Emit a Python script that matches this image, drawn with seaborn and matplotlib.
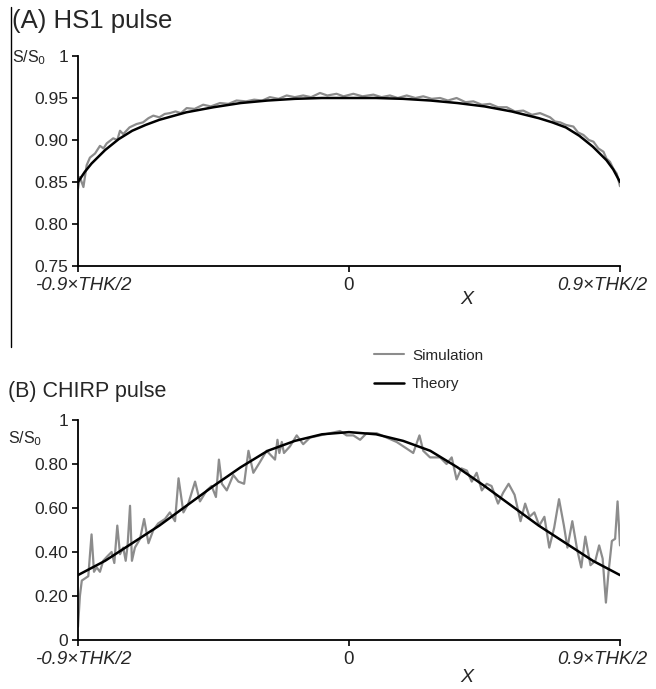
import numpy as np
import pandas as pd
import seaborn as sns
import matplotlib
matplotlib.use("Agg")
import matplotlib.pyplot as plt
from matplotlib.lines import Line2D

# x in units of 0.9*THK/2 (-1 .. 1)
hs1_theory_x = [-1.0, -0.975, -0.95, -0.9, -0.85, -0.8, -0.75, -0.7, -0.6, -0.5, -0.4, -0.3, -0.2, -0.1, 0.0,
                0.1, 0.2, 0.3, 0.4, 0.5, 0.6, 0.7, 0.75, 0.8, 0.85, 0.9, 0.95, 0.975, 1.0]
hs1_theory_y = [0.850, 0.862, 0.872, 0.888, 0.901, 0.911, 0.918, 0.924, 0.933, 0.939, 0.944, 0.947, 0.949, 0.950, 0.950,
                0.950, 0.949, 0.947, 0.944, 0.940, 0.934, 0.926, 0.921, 0.915, 0.905, 0.892, 0.876, 0.865, 0.850]

hs1_sim_x = [-1.000, -0.993, -0.980, -0.968, -0.956, -0.937, -0.919, -0.906, -0.894, -0.870, -0.855, -0.845, -0.833,
             -0.810, -0.784, -0.760, -0.740, -0.722, -0.700, -0.680, -0.661, -0.640, -0.620, -0.599, -0.570, -0.538,
             -0.510, -0.476, -0.445, -0.415, -0.380, -0.350, -0.320, -0.292, -0.260, -0.230, -0.200, -0.169, -0.140,
             -0.107, -0.080, -0.046, -0.020, 0.004, 0.016, 0.050, 0.090, 0.120, 0.151, 0.180, 0.213, 0.245, 0.274,
             0.305, 0.336, 0.365, 0.397, 0.430, 0.459, 0.490, 0.520, 0.550, 0.582, 0.612, 0.643, 0.675, 0.705, 0.742,
             0.760, 0.779, 0.800, 0.828, 0.845, 0.865, 0.885, 0.902, 0.920, 0.939, 0.950, 0.963, 0.975, 0.988, 1.000]
hs1_sim_y = [0.842, 0.856, 0.844, 0.870, 0.879, 0.884, 0.893, 0.890, 0.896, 0.902, 0.900, 0.911, 0.907,
             0.915, 0.919, 0.921, 0.926, 0.929, 0.927, 0.931, 0.932, 0.934, 0.932, 0.938, 0.937, 0.942,
             0.940, 0.944, 0.943, 0.947, 0.946, 0.948, 0.947, 0.951, 0.949, 0.953, 0.951, 0.953, 0.951,
             0.956, 0.953, 0.955, 0.952, 0.954, 0.955, 0.952, 0.954, 0.951, 0.953, 0.950, 0.953, 0.950, 0.952,
             0.949, 0.950, 0.947, 0.950, 0.945, 0.946, 0.942, 0.943, 0.939, 0.939, 0.934, 0.935, 0.930, 0.932, 0.927,
             0.922, 0.921, 0.918, 0.916, 0.909, 0.906, 0.900, 0.898, 0.890, 0.886, 0.878, 0.874, 0.866, 0.860, 0.845]

chirp_theory_x = [-1.0, -0.9, -0.8, -0.7, -0.6, -0.5, -0.4, -0.3, -0.2, -0.1, 0.0,
                  0.1, 0.2, 0.3, 0.4, 0.5, 0.6, 0.7, 0.8, 0.9, 1.0]
chirp_theory_y = [0.295, 0.36, 0.44, 0.52, 0.61, 0.70, 0.785, 0.86, 0.905, 0.935, 0.945,
                  0.935, 0.905, 0.86, 0.785, 0.70, 0.61, 0.52, 0.44, 0.36, 0.295]

chirp_sim_x = [-1.000, -0.993, -0.986, -0.974, -0.962, -0.950, -0.941, -0.931, -0.919, -0.907, -0.892, -0.876,
               -0.866, -0.855, -0.845, -0.833, -0.824, -0.817, -0.808, -0.801, -0.790, -0.771, -0.756, -0.740,
               -0.722, -0.704, -0.679, -0.661, -0.642, -0.629, -0.611, -0.593, -0.568, -0.550, -0.525, -0.507,
               -0.491, -0.480, -0.469, -0.451, -0.427, -0.408, -0.387, -0.371, -0.353, -0.328, -0.304, -0.273,
               -0.264, -0.257, -0.248, -0.240, -0.218, -0.193, -0.169, -0.144, -0.107, -0.070, -0.033, -0.009,
               0.016, 0.041, 0.065, 0.102, 0.139, 0.176, 0.213, 0.237, 0.260, 0.274, 0.299, 0.336, 0.360, 0.379,
               0.397, 0.415, 0.435, 0.453, 0.471, 0.490, 0.508, 0.526, 0.550, 0.569, 0.589, 0.611, 0.633, 0.650,
               0.666, 0.684, 0.702, 0.721, 0.739, 0.757, 0.775, 0.793, 0.806, 0.824, 0.842, 0.857, 0.872, 0.891,
               0.909, 0.923, 0.936, 0.948, 0.957, 0.970, 0.982, 0.991, 1.000]
chirp_sim_y = [0.06, 0.20, 0.27, 0.28, 0.29, 0.48, 0.31, 0.33, 0.31, 0.36, 0.38, 0.40,
               0.35, 0.52, 0.39, 0.42, 0.36, 0.43, 0.61, 0.36, 0.42, 0.46, 0.55, 0.44,
               0.50, 0.53, 0.55, 0.58, 0.54, 0.735, 0.58, 0.62, 0.72, 0.63, 0.68, 0.70,
               0.65, 0.82, 0.71, 0.68, 0.75, 0.72, 0.71, 0.86, 0.76, 0.81, 0.86, 0.82,
               0.91, 0.85, 0.90, 0.85, 0.88, 0.93, 0.89, 0.92, 0.93, 0.94, 0.95, 0.93,
               0.93, 0.91, 0.94, 0.94, 0.92, 0.90, 0.87, 0.85, 0.93, 0.86, 0.83, 0.83, 0.80, 0.83,
               0.73, 0.78, 0.77, 0.72, 0.76, 0.68, 0.71, 0.70, 0.62, 0.67, 0.71, 0.66, 0.54, 0.62,
               0.56, 0.58, 0.52, 0.56, 0.42, 0.51, 0.64, 0.52, 0.42, 0.54, 0.41, 0.33, 0.47, 0.34,
               0.36, 0.43, 0.37, 0.17, 0.30, 0.45, 0.46, 0.63, 0.43]

x_ticks = [-1, 0, 1]
x_ticklabels = ["-0.9\u00d7THK/2", "0", "0.9\u00d7THK/2"]
hs1_yticks = [0.75, 0.80, 0.85, 0.90, 0.95, 1.0]
hs1_yticklabels = ["0.75", "0.80", "0.85", "0.90", "0.95", "1"]
chirp_yticks = [0, 0.2, 0.4, 0.6, 0.8, 1.0]
chirp_yticklabels = ["0", "0.20", "0.40", "0.60", "0.80", "1"]

sim_color = "#8c8c8c"
sns.set_theme(style="ticks")
plt.rcParams["font.family"] = ["Liberation Sans", "DejaVu Sans"]

W, H = 656, 689
fig = plt.figure(figsize=(W / 100, H / 100), dpi=100)
ax1 = fig.add_axes([78 / W, 1 - 266 / H, 542 / W, 210 / H])
ax2 = fig.add_axes([78 / W, 1 - 640 / H, 542 / W, 220 / H])

# label offsets in points (ref labels are nudged inward at the ends)
lab_dx = [4.0, 0, -12.5]
lab_style = ["italic", "normal", "italic"]

panels = [
    (ax1, hs1_sim_x, hs1_sim_y, hs1_theory_x, hs1_theory_y, hs1_yticks, hs1_yticklabels, (0.75, 1.0)),
    (ax2, chirp_sim_x, chirp_sim_y, chirp_theory_x, chirp_theory_y, chirp_yticks, chirp_yticklabels, (0, 1.0)),
]
for ax, sx, sy, tx, ty, yt, ytl, ylim in panels:
    sns.lineplot(x=sx, y=sy, ax=ax, color=sim_color, linewidth=1.6, sort=False)
    sns.lineplot(x=tx, y=ty, ax=ax, color="black", linewidth=1.8, sort=False)
    ax.set_xlim(-1, 1)
    ax.set_ylim(*ylim)
    ax.set_yticks(yt)
    ax.set_yticklabels(ytl, fontsize=12.5)
    ax.set_xticks(x_ticks)
    ax.set_xticklabels([])
    for xv, lab, dx, st in zip(x_ticks, x_ticklabels, lab_dx, lab_style):
        ax.annotate(lab, xy=(xv, 0), xycoords=ax.get_xaxis_transform(), xytext=(dx, -8),
                    textcoords="offset points", ha="center", va="top", fontsize=13.5, style=st)
    ax.tick_params(direction="out", length=4, width=1.2, color="black", pad=3)
    sns.despine(ax=ax)
    for s in ["left", "bottom"]:
        ax.spines[s].set_color("black")
        ax.spines[s].set_linewidth(1.3)
    ax.set_xlabel("")
    ax.set_ylabel("")
    ax.set_facecolor("white")

fig.text(12 / W, 1 - 28 / H, "(A) HS1 pulse", fontsize=18.5, ha="left", va="baseline")
fig.text(8 / W, 1 - 397 / H, "(B) CHIRP pulse", fontsize=15.5, ha="left", va="baseline")
fig.text(12 / W, 1 - 58 / H, "S/S$_0$", fontsize=11.5, ha="left", va="center")
fig.text(8 / W, 1 - 439 / H, "S/S$_0$", fontsize=11.5, ha="left", va="center")
fig.text(467 / W, 1 - 299 / H, "X", fontsize=14, style="italic", ha="center", va="center")
fig.text(467 / W, 1 - 678 / H, "X", fontsize=14, style="italic", ha="center", va="center")

fig.add_artist(Line2D([11 / W, 11 / W], [1 - 7 / H, 1 - 347 / H], color="black", linewidth=1))

handles = [Line2D([], [], color=sim_color, linewidth=1.5), Line2D([], [], color="black", linewidth=1.8)]
fig.legend(handles, ["Simulation", "Theory"], loc="upper left", bbox_to_anchor=(360 / W, 1 - 335 / H),
           frameon=False, fontsize=11, handlelength=2.0, handletextpad=0.5, labelspacing=0.95)

fig.savefig("out.png", dpi=100, facecolor="white")
